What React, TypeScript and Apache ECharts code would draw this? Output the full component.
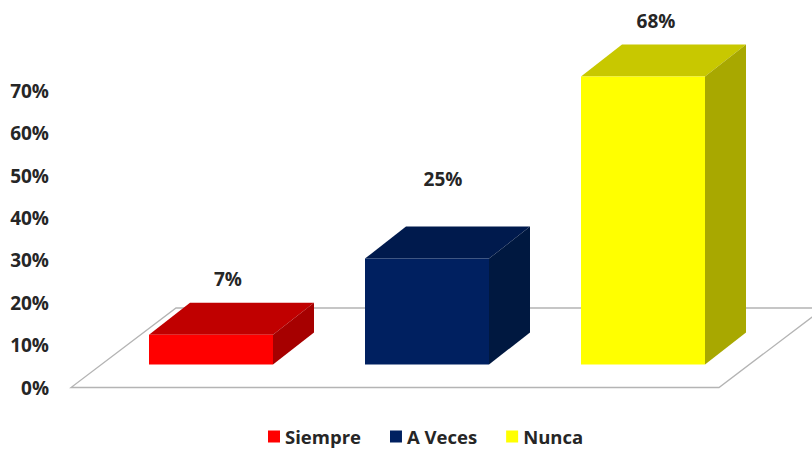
import React, { useEffect, useRef } from "react";
import * as echarts from "echarts";

const categories = ["Siempre", "A Veces", "Nunca"];
const percentages = [7, 25, 68];
const yTicks = [0, 10, 20, 30, 40, 50, 60, 70];

const frontColors = ["#ff0000", "#002060", "#ffff00"];
const topColors = ["#c00000", "#001a4d", "#c8c800"];
const sideColors = ["#a60000", "#001840", "#a8a800"];

const FONT = '"Open Sans", sans-serif';
const TEXT = "#262626";
const BAR_WIDTH = 124;
const DEPTH_X = 41;
const DEPTH_Y = 32;
const BASE_X = 32;
const BASE_Y = 23;
const labelShift = [[17, 56], [16, 79.7], [13, 55.5]];

function floorItem(params: any, api: any) {
  const c = params.coordSys;
  const l = c.x, r = c.x + c.width, b = c.y + c.height;
  const dx = 105, dy = 79.5;
  return {
    type: "polygon",
    silent: true,
    shape: { points: [[l, b], [r, b], [r + dx, b - dy], [l + dx, b - dy]] },
    style: { fill: "#ffffff", stroke: "#b4b4b4", lineWidth: 1.3 },
  };
}

function barItem(index: number) {
  return (params: any, api: any) => {
    const v = api.value(1);
    const p0 = api.coord([api.value(0), 0]);
    const p1 = api.coord([api.value(0), v]);
    const cx = p0[0] + BASE_X;
    const l = cx - BAR_WIDTH / 2;
    const r = cx + BAR_WIDTH / 2;
    const b = p0[1] - BASE_Y;
    const t = p1[1] - BASE_Y;
    const poly = (points: number[][], fill: string) => ({
      type: "polygon",
      shape: { points },
      style: { fill },
    });
    return {
      type: "group",
      children: [
        poly([[l, t], [r, t], [r + DEPTH_X, t - DEPTH_Y], [l + DEPTH_X, t - DEPTH_Y]], topColors[index]),
        poly([[r, t], [r + DEPTH_X, t - DEPTH_Y], [r + DEPTH_X, b - DEPTH_Y], [r, b]], sideColors[index]),
        poly([[l, t], [r, t], [r, b], [l, b]], frontColors[index]),
        {
          type: "text",
          style: {
            text: `${v}%`,
            x: cx + labelShift[index][0],
            y: t - labelShift[index][1],
            fill: TEXT,
            font: `bold 19px ${FONT}`,
            align: "center",
            verticalAlign: "middle",
          },
        },
      ],
    };
  };
}

export default function App() {
  const ref = useRef<HTMLDivElement>(null);
  useEffect(() => {
    const chart = echarts.init(ref.current!, undefined, { renderer: "svg" });
    chart.setOption({
      animation: false,
      grid: { left: 71, top: 91, width: 648, height: 296.5, containLabel: false },
      legend: {
        data: categories,
        top: 422,
        left: 263,
        icon: "rect",
        itemWidth: 12,
        itemHeight: 12,
        itemGap: 29,
        textStyle: { color: TEXT, fontFamily: FONT, fontWeight: "bold", fontSize: 18.5 },
      },
      xAxis: {
        type: "category",
        data: categories,
        show: false,
      },
      yAxis: {
        type: "value",
        min: yTicks[0],
        max: yTicks[yTicks.length - 1],
        interval: 10,
        axisLine: { show: false },
        axisTick: { show: false },
        splitLine: { show: false },
        axisLabel: {
          formatter: "{value}%",
          color: TEXT,
          fontFamily: FONT,
          fontWeight: "bold",
          fontSize: 19,
          margin: 22,
        },
      },
      series: [
        {
          type: "custom",
          name: "floor",
          data: [[categories[0], 0]],
          encode: { x: 0, y: 1 },
          renderItem: floorItem,
          clip: false,
          silent: true,
          z: 1,
        },
        ...categories.map((name, i) => ({
          type: "custom",
          name,
          data: [[name, percentages[i]]],
          encode: { x: 0, y: 1 },
          itemStyle: { color: frontColors[i] },
          renderItem: barItem(i),
          clip: false,
          z: 2,
        })),
      ],
    });
    return () => chart.dispose();
  }, []);
  return (
    <div
      ref={ref}
      style={{ position: "fixed", left: 0, top: 0, width: 812, height: 449, background: "#fff" }}
    />
  );
}
